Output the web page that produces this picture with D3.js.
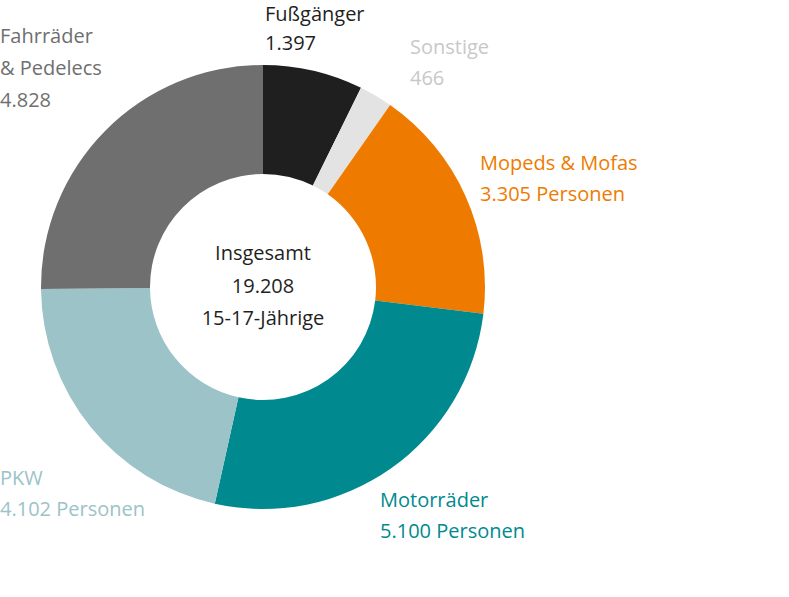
<!DOCTYPE html>
<html><head><meta charset="utf-8">
<script src="https://cdn.jsdelivr.net/npm/d3@7"></script>
<style>body{margin:0;background:#fff}svg{display:block}text{font-family:"Open Sans","Noto Sans",sans-serif;font-size:20px}</style>
</head><body>
<svg id="c" width="789" height="597"></svg>
<script>
const categories = ["Fußgänger","Sonstige","Mopeds & Mofas","Motorräder","PKW","Fahrräder & Pedelecs"];
const values = [1397,466,3305,5100,4102,4828];
const colors = ["#1f1f1f","#e3e3e3","#ee7b00","#008a8f","#9bc3c8","#6f6f6f"];
const textColors = ["#1f1f1f","#c8c8c8","#ee7b00","#008a8f","#9bc3c8","#6f6f6f"];
const labelLines = [["Fußgänger","1.397"],["Sonstige","466"],["Mopeds & Mofas","3.305 Personen"],["Motorräder","5.100 Personen"],["PKW","4.102 Personen"],["Fahrräder","& Pedelecs","4.828"]];
const labelPos = [[265,21],[410,54],[480,170],[380,507],[0,485],[0,43]];
const centerLines = ["Insgesamt","19.208","15-17-Jährige"];

const svg = d3.select("#c");
const cx = 263, cy = 287, R = 222, r = 113;
const data = categories.map((c,i)=>({c,v:values[i],i}));
const pie = d3.pie().value(d=>d.v).sort(null);
const arc = d3.arc().innerRadius(r).outerRadius(R);
const g = svg.append("g").attr("transform",`translate(${cx},${cy})`);
g.selectAll("path").data(pie(data)).join("path").attr("d",arc).attr("fill",d=>colors[d.data.i]);

data.forEach((d,i)=>{
  const t = svg.append("text").attr("fill",textColors[i]);
  labelLines[i].forEach((ln,j)=>{
    t.append("tspan").attr("x",labelPos[i][0]).attr("y",labelPos[i][1]+j*(i===5?32:(i===0?29:31))).text(ln);
  });
});
const ct = svg.append("text").attr("text-anchor","middle").attr("fill","#1f1f1f");
centerLines.forEach((ln,j)=>ct.append("tspan").attr("x",cx).attr("y",260+j*32.5).text(ln));
</script>
</body></html>
